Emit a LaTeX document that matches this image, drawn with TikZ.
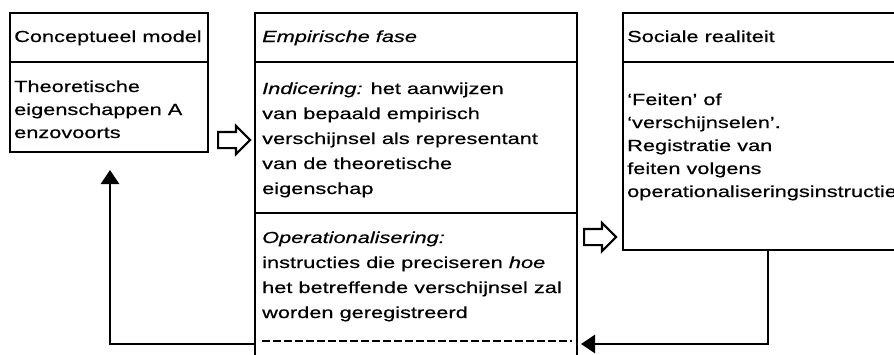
\documentclass[tikz,border=0pt]{standalone}
\usepackage{fontspec}
\setmainfont[FakeStretch=1.36, FakeBold=0.5]{Liberation Sans}
\usetikzlibrary{positioning}
\usetikzlibrary{arrows.meta}
\usetikzlibrary{shapes.arrows}
\tikzstyle{every vak} = []
\tikzstyle{vak} = [draw, rectangle, line width=2.8pt, inner sep=0pt, outer sep=0pt, anchor=north west, every vak]
\tikzstyle{regel} = [anchor=base west, inner sep=0pt, font=\fontsize{16}{20}\selectfont]
\tikzstyle{pijl} = [single arrow, draw, line width=2.2pt, inner sep=0pt, inner ysep=7pt, minimum height=32pt, single arrow head extend=6pt, anchor=tail]
\tikzstyle{terug} = [line width=2.8pt, -{Triangle[length=14pt,width=18pt]}]

\begin{document}
\begin{tikzpicture}[x=1pt, y=-1pt]
        \useasboundingbox (0,0) rectangle (894,354);
        \clip (0,0) rectangle (894,354);

        % conceptueel model
        \node[vak, minimum width=198pt, minimum height=49pt] (cmkop) at (10,13) {};
        \node[vak, minimum width=198pt, minimum height=90pt] (cmlijf) at (10,62) {};
        \node[regel] (cmtitel) at (14,42) {Conceptueel model};
        \foreach \r [count=\i from 0] in {Theoretische, eigenschappen A, enzovoorts}
            \node[regel] (cm\i) at (14,92+23*\i) {\r};

        % empirische fase
        \node[vak, minimum width=322pt, minimum height=49pt] (efkop) at (255,13) {};
        \node[vak, minimum width=322pt, minimum height=151pt] (efind) at (255,62) {};
        \node[vak, minimum width=322pt, minimum height=160pt] (efop) at (255,213) {};
        \node[regel] (eftitel) at (262,42) {\textit{Empirische fase}};
        \foreach \r [count=\i from 0] in {{\textit{Indicering:} het aanwijzen}, van bepaald empirisch,
                verschijnsel als representant, van de theoretische, eigenschap}
            \node[regel] (ind\i) at (262,94+25*\i) {\r};
        \foreach \r [count=\i from 0] in {\textit{Operationalisering:}, {instructies die preciseren \textit{hoe}},
                het betreffende verschijnsel zal, worden geregistreerd}
            \node[regel] (op\i) at (262,243+25*\i) {\r};
        \draw[line width=1.8pt, dash pattern=on 8pt off 3pt] (262,341) -- (572,341);

        % sociale realiteit
        \node[vak, minimum width=300pt, minimum height=49pt] (srkop) at (623,13) {};
        \node[vak, minimum width=300pt, minimum height=188pt] (srlijf) at (623,62) {};
        \node[regel] (srtitel) at (627,42) {Sociale realiteit};
        \foreach \r [count=\i from 0] in {`Feiten' of, `verschijnselen'., Registratie van, feiten volgens,
                operationaliseringsinstructies}
            \node[regel] (sr\i) at (627,105+23*\i) {\r};

        \node[pijl] (pijl1) at (217,140) {};
        \node[pijl] (pijl2) at (583,237) {};

        \coordinate (hoekR) at (768,344);
        \coordinate (hoekL) at (110,344);
        \draw[terug, shorten >=4pt] (srlijf.south -| hoekR) -- (hoekR) -- (efop.east |- hoekR);
        \draw[terug, shorten >=18pt] (efop.west |- hoekL) -- (hoekL) -- (cmlijf.south -| hoekL);
    \end{tikzpicture}
\end{document}
